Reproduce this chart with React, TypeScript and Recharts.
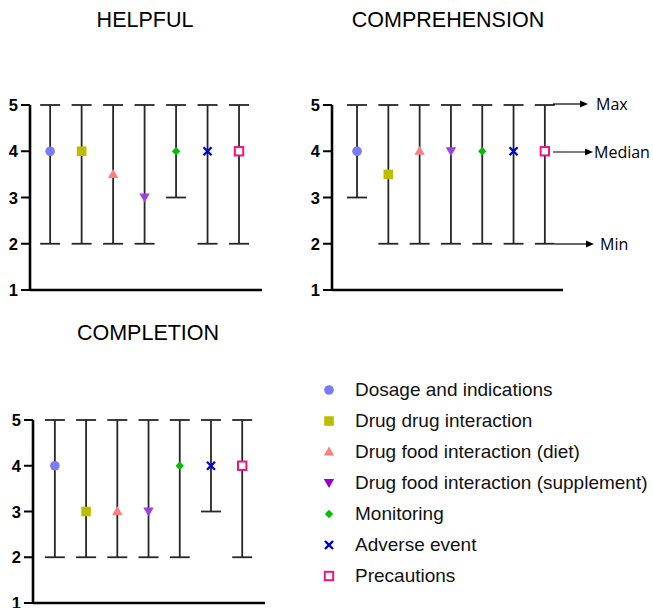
import React from "react";
import { ScatterChart, Scatter, XAxis, YAxis, ErrorBar } from "recharts";

const categories = [
  "Dosage and indications",
  "Drug drug interaction",
  "Drug food interaction (diet)",
  "Drug food interaction (supplement)",
  "Monitoring",
  "Adverse event",
  "Precautions",
];

const helpfulMedian = [4, 4, 3.5, 3, 4, 4, 4];
const helpfulMin = [2, 2, 2, 2, 3, 2, 2];
const helpfulMax = [5, 5, 5, 5, 5, 5, 5];

const comprehensionMedian = [4, 3.5, 4, 4, 4, 4, 4];
const comprehensionMin = [3, 2, 2, 2, 2, 2, 2];
const comprehensionMax = [5, 5, 5, 5, 5, 5, 5];

const completionMedian = [4, 3, 3, 3, 4, 4, 4];
const completionMin = [2, 2, 2, 2, 2, 3, 2];
const completionMax = [5, 5, 5, 5, 5, 5, 5];

const yTicks = [1, 2, 3, 4, 5];

const colors = ["#7b7bf5", "#bdbd00", "#ff7f7f", "#a040e0", "#00c000", "#0000cc", "#f0157a"];
const legendPurple = "#9900cc";

function Marker({ kind, cx, cy, color }: { kind: number; cx: number; cy: number; color: string }) {
  switch (kind) {
    case 0:
      return <circle cx={cx} cy={cy} r={4.8} fill={color} />;
    case 1:
      return <rect x={cx - 4.8} y={cy - 4.8} width={9.6} height={9.6} fill={color} />;
    case 2:
      return <polygon points={`${cx},${cy - 5.5} ${cx + 5.2},${cy + 3.5} ${cx - 5.2},${cy + 3.5}`} fill={color} />;
    case 3:
      return <polygon points={`${cx},${cy + 5} ${cx + 5.2},${cy - 4} ${cx - 5.2},${cy - 4}`} fill={color} />;
    case 4:
      return <polygon points={`${cx},${cy - 4.2} ${cx + 4.2},${cy} ${cx},${cy + 4.2} ${cx - 4.2},${cy}`} fill={color} />;
    case 5:
      return (
        <g stroke={color} strokeWidth={2.4}>
          <line x1={cx - 4} y1={cy - 4} x2={cx + 4} y2={cy + 4} />
          <line x1={cx - 4} y1={cy + 4} x2={cx + 4} y2={cy - 4} />
        </g>
      );
    default:
      return <rect x={cx - 4.2} y={cy - 4.2} width={8.4} height={8.4} fill="#fff" stroke={color} strokeWidth={2} />;
  }
}

function YTick(props: any) {
  const { x, y, payload } = props;
  return (
    <text
      x={x}
      y={y}
      dy={6}
      textAnchor="end"
      fill="#000"
      fontSize={16.5}
      fontWeight={700}
      fontFamily="Liberation Sans, Arial, sans-serif"
    >
      {payload.value}
    </text>
  );
}

type PanelProps = {
  median: number[];
  min: number[];
  max: number[];
  width: number;
  height: number;
  margin: { top: number; right: number; bottom: number; left: number };
  yWidth: number;
  xDomain: [number, number];
};

function Panel({ median, min, max, width, height, margin, yWidth, xDomain }: PanelProps) {
  const rows = categories.map((c, i) => ({
    x: i,
    y: median[i],
    err: [median[i] - min[i], max[i] - median[i]],
  }));
  return (
    <ScatterChart width={width} height={height} margin={margin}>
      <XAxis
        type="number"
        dataKey="x"
        domain={xDomain}
        tick={false}
        tickLine={false}
        height={1}
        axisLine={{ stroke: "#000", strokeWidth: 2.6 }}
      />
      <YAxis
        type="number"
        dataKey="y"
        domain={[1, 5]}
        ticks={yTicks}
        interval={0}
        width={yWidth}
        tickSize={9}
        tickMargin={3}
        axisLine={{ stroke: "#000", strokeWidth: 2.6 }}
        tickLine={{ stroke: "#000", strokeWidth: 2 }}
        tick={(p: any) => <YTick {...p} />}
      />
      {categories.map((c, i) => (
        <Scatter
          key={"bar-" + c}
          data={[rows[i]]}
          isAnimationActive={false}
          shape={() => <g />}
        >
          <ErrorBar dataKey="err" direction="y" width={10} stroke="#262626" strokeWidth={1.8} />
        </Scatter>
      ))}
      {categories.map((c, i) => (
        <Scatter
          key={c}
          name={c}
          data={[rows[i]]}
          isAnimationActive={false}
          shape={(p: any) => <Marker kind={i} cx={p.cx} cy={p.cy} color={colors[i]} />}
        />
      ))}
    </ScatterChart>
  );
}

const titleStyle: React.CSSProperties = {
  position: "absolute",
  fontFamily: "Liberation Sans, Arial, sans-serif",
  fontSize: 21.5,
  color: "#000",
  transform: "translateX(-50%)",
  whiteSpace: "nowrap",
};

const noteStyle: React.CSSProperties = {
  fontFamily: "Open Sans, Noto Sans, sans-serif",
  fontSize: 16,
  fill: "#000",
};

export default function App() {
  return (
    <div style={{ position: "absolute", left: 0, top: 0, width: 653, height: 608, background: "#fff" }}>
      <div style={{ ...titleStyle, left: 145, top: 8 }}>HELPFUL</div>
      <div style={{ ...titleStyle, left: 448, top: 8 }}>COMPREHENSION</div>
      <div style={{ ...titleStyle, left: 148, top: 321 }}>COMPLETION</div>

      <div style={{ position: "absolute", left: 0, top: 0 }}>
        <Panel
          median={helpfulMedian}
          min={helpfulMin}
          max={helpfulMax}
          width={300}
          height={300}
          margin={{ top: 105, right: 38, bottom: 9, left: 0 }}
          yWidth={30}
          xDomain={[-0.64, 6.73]}
        />
      </div>
      <div style={{ position: "absolute", left: 300, top: 0 }}>
        <Panel
          median={comprehensionMedian}
          min={comprehensionMin}
          max={comprehensionMax}
          width={353}
          height={300}
          margin={{ top: 105, right: 90, bottom: 9, left: 0 }}
          yWidth={32}
          xDomain={[-0.8, 6.58]}
        />
      </div>
      <div style={{ position: "absolute", left: 0, top: 300 }}>
        <Panel
          median={completionMedian}
          min={completionMin}
          max={completionMax}
          width={300}
          height={308}
          margin={{ top: 120, right: 35, bottom: 4, left: 0 }}
          yWidth={33}
          xDomain={[-0.7, 6.73]}
        />
      </div>

      <svg style={{ position: "absolute", left: 0, top: 0 }} width={653} height={608} pointerEvents="none">
        <g stroke="#000" strokeWidth={1.2}>
          <line x1={553} y1={104} x2={581} y2={104} />
          <line x1={553} y1={152} x2={586} y2={152} />
          <line x1={555} y1={244} x2={587} y2={244} />
        </g>
        <polygon points="588,104 580,100.5 580,107.5" fill="#000" />
        <polygon points="593,152 585,148.5 585,155.5" fill="#000" />
        <polygon points="594,244 586,240.5 586,247.5" fill="#000" />
        <text x={596} y={110} style={noteStyle}>Max</text>
        <text x={594} y={158} style={noteStyle}>Median</text>
        <text x={600} y={250} style={noteStyle}>Min</text>
      </svg>

      <div style={{ position: "absolute", left: 318, top: 374 }}>
        {categories.map((c, i) => (
          <div key={c} style={{ display: "flex", alignItems: "center", height: 31 }}>
            <svg width={22} height={20}>
              <Marker kind={i} cx={11} cy={10} color={i === 3 ? legendPurple : colors[i]} />
            </svg>
            <span
              style={{
                marginLeft: 15,
                fontFamily: "Liberation Sans, Arial, sans-serif",
                fontSize: 19,
                color: "#111",
                whiteSpace: "nowrap",
              }}
            >
              {c}
            </span>
          </div>
        ))}
      </div>
    </div>
  );
}
